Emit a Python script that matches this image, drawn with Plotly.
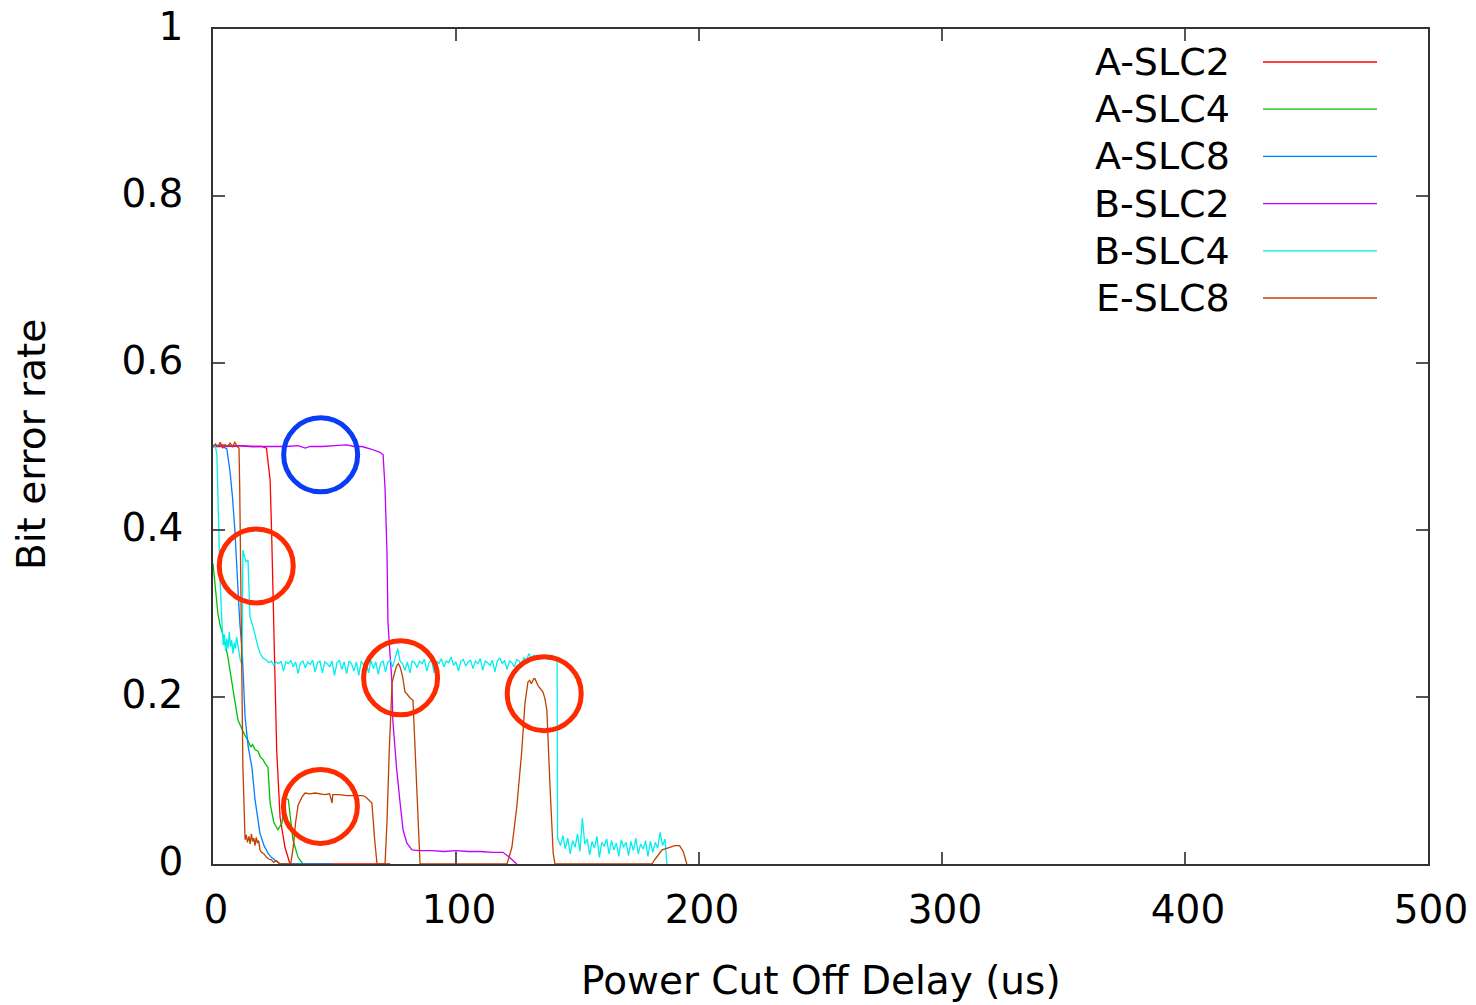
import plotly.graph_objects as go

# ---- measured bit error rate vs. power cut-off delay (us) ----
a_slc2_x = [0, 4, 8, 12, 16, 20, 22.0, 23.5, 24.1, 25.1, 26.2, 27.6, 29.6, 31.7, 40, 50, 60, 73]
a_slc2_y = [0.5, 0.502, 0.5, 0.501, 0.5, 0.5, 0.498, 0.46, 0.4, 0.256, 0.137, 0.056, 0.02, 0, 0, 0, 0, 0]

a_slc4_x = [0, 1, 2, 3, 4.5, 6, 7.5, 9, 10.3, 12, 13, 14.4, 15.5, 16.3, 17.3, 18.5, 19.5, 20.6,
            21.5, 22.6, 23.5, 25, 26.7, 28.4, 29.6, 31, 32.9, 35, 37]
a_slc4_y = [0.36, 0.33, 0.30, 0.285, 0.27, 0.25, 0.22, 0.195, 0.172, 0.16, 0.155, 0.148, 0.14, 0.143,
            0.137, 0.135, 0.128, 0.125, 0.12, 0.116, 0.073, 0.05, 0.041, 0.049, 0.079, 0.077, 0.029, 0.008, 0]

a_slc8_x = [0, 2, 4, 5.7, 7, 8, 9, 10.3, 11, 12, 13.2, 14.5, 16, 17.3, 18.3, 19.3, 21, 22.6, 24, 26, 27.6, 35, 49]
a_slc8_y = [0.5, 0.501, 0.5, 0.497, 0.47, 0.44, 0.4, 0.33, 0.29, 0.256, 0.176, 0.14, 0.116, 0.077, 0.055,
            0.037, 0.022, 0.013, 0.008, 0.004, 0, 0, 0]

b_slc2_x = [0, 5, 10, 15, 20, 25, 30, 35, 38, 40, 45, 50, 55, 58, 61.3, 65, 68.7, 70, 70.8, 71.6, 72,
            72.8, 73.6, 74, 75.6, 77, 78.2, 79.8, 81.9, 85, 90, 95, 100, 105, 110, 115, 119.3, 122, 125]
b_slc2_y = [0.5, 0.5, 0.501, 0.5, 0.5, 0.5, 0.5, 0.501, 0.498, 0.5, 0.5, 0.501, 0.502, 0.5, 0.5, 0.497,
            0.493, 0.49, 0.45, 0.372, 0.29, 0.253, 0.22, 0.172, 0.113, 0.073, 0.041, 0.025, 0.017, 0.016,
            0.016, 0.015, 0.016, 0.015, 0.015, 0.014, 0.014, 0.008, 0]

b_slc4_x = [0, 1, 1.6, 2, 2.9, 3.7, 4.2, 4.7, 5.2, 5.7, 6.2, 6.7, 7.2, 7.7, 8.2, 8.7, 9.2, 9.7, 10.2,
            10.7, 11.2, 11.7, 12.0, 12.3, 12.8, 13.5, 14.4, 15.2, 16.5, 17.5, 18.5, 19.3, 20.5,
            22, 23, 24, 25, 26, 27, 28, 29, 30, 31, 32, 33, 34, 35, 36, 37, 38, 39, 40, 41,
            42, 43, 44, 45, 46, 47, 48, 49, 50, 51, 52, 53, 54, 55, 56, 57, 58, 59, 60, 61,
            62, 63, 64, 65, 66, 67, 68, 69, 70, 71, 72, 73, 74, 75, 76, 77, 78, 79, 80, 81,
            82, 83, 84, 85, 86, 87, 88, 89, 90, 91, 92, 93, 94, 95, 96, 97, 98, 99, 100, 101,
            102, 103, 104, 105, 106, 107, 108, 109, 110, 111, 112, 113, 114, 115, 116, 117, 118,
            119, 120, 121, 122, 123, 124, 125, 126, 127, 128, 129, 130, 131, 132, 133, 134, 135,
            136, 137, 138, 139, 140, 141, 141.6, 141.8,
            142, 143, 144, 145, 146, 147, 148, 149, 150, 151, 152, 153, 154, 155, 156, 157, 158,
            159, 160, 161, 162, 163, 164, 165, 166, 167, 168, 169, 170, 171, 172, 173, 174, 175,
            176, 177, 178, 179, 180, 181, 182, 183, 184, 185, 186, 186.8]
b_slc4_y = [0.5, 0.5, 0.49, 0.44, 0.34, 0.288, 0.262, 0.275, 0.255, 0.27, 0.258, 0.278, 0.26, 0.268,
            0.252, 0.265, 0.258, 0.272, 0.262, 0.255, 0.245, 0.24, 0.25, 0.376, 0.37, 0.362, 0.364,
            0.296, 0.284, 0.27, 0.26, 0.253, 0.247,
            0.244, 0.241, 0.243, 0.238, 0.242, 0.240, 0.243, 0.231, 0.242, 0.240, 0.244, 0.236,
            0.242, 0.228, 0.241, 0.243, 0.235, 0.242, 0.239, 0.244, 0.230, 0.241, 0.243, 0.229,
            0.242, 0.240, 0.236, 0.243, 0.226, 0.241, 0.244, 0.233, 0.242, 0.228, 0.243, 0.240,
            0.231, 0.242, 0.226, 0.243, 0.238, 0.241, 0.229, 0.244, 0.234, 0.242, 0.227, 0.241,
            0.243, 0.230, 0.242, 0.244, 0.236, 0.249, 0.258, 0.243, 0.240, 0.232, 0.242, 0.229,
            0.243, 0.241, 0.235, 0.243, 0.240, 0.245, 0.231, 0.242, 0.244, 0.229, 0.243, 0.240,
            0.246, 0.236, 0.243, 0.241, 0.248, 0.238, 0.242, 0.231, 0.243, 0.245, 0.237, 0.242,
            0.244, 0.234, 0.243, 0.240, 0.246, 0.232, 0.243, 0.241, 0.238, 0.244, 0.230, 0.243,
            0.247, 0.240, 0.244, 0.233, 0.243, 0.241, 0.236, 0.245, 0.243, 0.238, 0.247, 0.244,
            0.252, 0.246, 0.250, 0.247, 0.245, 0.248, 0.246, 0.247, 0.245, 0.247, 0.246, 0.245,
            0.245, 0.03,
            0.030, 0.022, 0.034, 0.018, 0.031, 0.012, 0.028, 0.020, 0.036, 0.015, 0.055, 0.024,
            0.030, 0.011, 0.027, 0.019, 0.033, 0.008, 0.026, 0.021, 0.030, 0.012, 0.028, 0.017,
            0.025, 0.009, 0.029, 0.020, 0.026, 0.010, 0.027, 0.016, 0.031, 0.012, 0.024, 0.018,
            0.028, 0.009, 0.027, 0.014, 0.026, 0.019, 0.038, 0.022, 0.030, 0]

e_slc8_x = [0, 1, 2, 3, 4, 5, 6, 7, 8, 9, 10, 10.7, 11, 11.5, 12.3, 13.2, 13.7, 14.2, 14.8, 15.3,
            15.8, 16.3, 16.8, 17.3, 17.8, 18.3, 18.8, 19.3, 20, 21, 22, 23, 24, 25, 26, 27.6,
            32, 33, 34, 35, 36.6, 37.9, 40, 42, 44, 46, 48, 49, 49.3, 52, 55, 58, 61.7, 63, 65.4,
            66.5, 67.5, 70.8, 71.6, 72.5, 73.7, 75, 75.7, 76.3, 77, 78, 79, 80, 81, 82.3, 83, 84,
            85.2, 121, 123, 125, 127, 128.4, 129.6, 130.3, 131, 132, 132.5, 133.7, 135, 135.8,
            136.6, 137.4, 138.7, 140, 140.7, 180.6, 182, 184.8, 188, 190, 192, 193.5, 195]
e_slc8_y = [0.5, 0.503, 0.5, 0.505, 0.498, 0.502, 0.5, 0.504, 0.5, 0.505, 0.5, 0.498, 0.45, 0.3,
            0.116, 0.029, 0.035, 0.026, 0.033, 0.024, 0.036, 0.027, 0.031, 0.022, 0.032, 0.025,
            0.028, 0.017, 0.014, 0.012, 0.008, 0.006, 0.005, 0.002, 0.004, 0,
            0, 0.02, 0.05, 0.07, 0.08, 0.085, 0.084, 0.085, 0.084, 0.083, 0.084, 0.073, 0.083,
            0.083, 0.082, 0.082, 0.082, 0.08, 0.073, 0.03, 0, 0, 0.05, 0.133, 0.217, 0.232, 0.238,
            0.24, 0.236, 0.225, 0.206, 0.203, 0.199, 0.196, 0.15, 0.073, 0, 0, 0.02, 0.068, 0.133,
            0.193, 0.218, 0.22, 0.216, 0.222, 0.222, 0.214, 0.208, 0.206, 0.198, 0.184, 0.092,
            0.013, 0, 0, 0.006, 0.017, 0.02, 0.022, 0.022, 0.015, 0]

series_names = ["A-SLC2", "A-SLC4", "A-SLC8", "B-SLC2", "B-SLC4", "E-SLC8"]
series_x = [a_slc2_x, a_slc4_x, a_slc8_x, b_slc2_x, b_slc4_x, e_slc8_x]
series_y = [a_slc2_y, a_slc4_y, a_slc8_y, b_slc2_y, b_slc4_y, e_slc8_y]
series_colors = ["#ff0000", "#00c000", "#0080ff", "#c000ff", "#00eeee", "#c04000"]

x_ticks = [0, 100, 200, 300, 400, 500]
y_ticks = [0, 0.2, 0.4, 0.6, 0.8, 1]
y_tick_text = ["0", "0.2", "0.4", "0.6", "0.8", "1"]

# highlight rings (data-space centres) and their colours
ring_x = [44.3, 17.8, 77.2, 136.3, 44.2]
ring_y = [0.490, 0.357, 0.223, 0.204, 0.069]
ring_colors = ["#0a3cf5", "#ff2a00", "#ff2a00", "#ff2a00", "#ff2a00"]

FONT = "DejaVu Sans"
FS = 39        # tick labels and axis titles
FS_KEY = 38    # key labels

fig = go.Figure()
for name, xs, ys, col in zip(series_names, series_x, series_y, series_colors):
    fig.add_trace(go.Scatter(x=xs, y=ys, mode="lines", name=name,
                             line=dict(color=col, width=1.3), showlegend=False))

shapes = []
for cx, cy, col in zip(ring_x, ring_y, ring_colors):
    shapes.append(dict(type="circle", xref="x", yref="y",
                       xsizemode="pixel", ysizemode="pixel",
                       xanchor=cx, yanchor=cy, x0=-37, x1=37, y0=-37, y1=37,
                       line=dict(color=col, width=5)))

# gnuplot-style key: right-aligned labels with a sample line to their right
annotations = []
plot_w, plot_h, left, top = 1215, 835, 213, 29
for i, (name, col) in enumerate(zip(series_names, series_colors)):
    ypx = 62 + i * 47.2
    yp = (top + plot_h - ypx) / plot_h
    annotations.append(dict(xref="paper", yref="paper", x=(1232 - left) / plot_w, y=yp,
                            xanchor="right", yanchor="middle", text=name, showarrow=False,
                            font=dict(family=FONT, size=FS_KEY, color="black")))
    shapes.append(dict(type="line", xref="paper", yref="paper",
                       x0=(1263 - left) / plot_w, x1=(1377 - left) / plot_w, y0=yp, y1=yp,
                       line=dict(color=col, width=1.3)))

annotations.append(dict(xref="paper", yref="paper", x=0.5, y=(864 - 980) / plot_h,
                        xanchor="center", yanchor="middle", text="Power Cut Off Delay (us)",
                        showarrow=False, font=dict(family=FONT, size=FS, color="black")))
annotations.append(dict(xref="paper", yref="paper", x=(32 - left) / plot_w, y=(864 - 445) / plot_h,
                        xanchor="center", yanchor="middle", text="Bit error rate", textangle=-90,
                        showarrow=False, font=dict(family=FONT, size=FS, color="black")))

axis_common = dict(showgrid=False, zeroline=False, showline=True, linecolor="#333333", linewidth=1.5,
                   mirror="ticks", ticks="inside", ticklen=12, tickwidth=1.5, tickcolor="#555555",
                   automargin=False, tickfont=dict(family=FONT, size=FS, color="black"))

fig.update_layout(
    width=1476, height=1005,
    margin=dict(l=213, r=48, t=29, b=141, autoexpand=False),
    paper_bgcolor="white", plot_bgcolor="white",
    xaxis=dict(range=[0, 500], tickvals=x_ticks, ticklabelstandoff=10, ticklabelshift=3, **axis_common),
    yaxis=dict(range=[0, 1], tickvals=y_ticks, ticktext=y_tick_text, ticklabelstandoff=20,
               ticklabelshift=-3, **axis_common),
    shapes=shapes, annotations=annotations,
    font=dict(family=FONT, size=FS, color="black"),
)

fig.write_html("out.html")
